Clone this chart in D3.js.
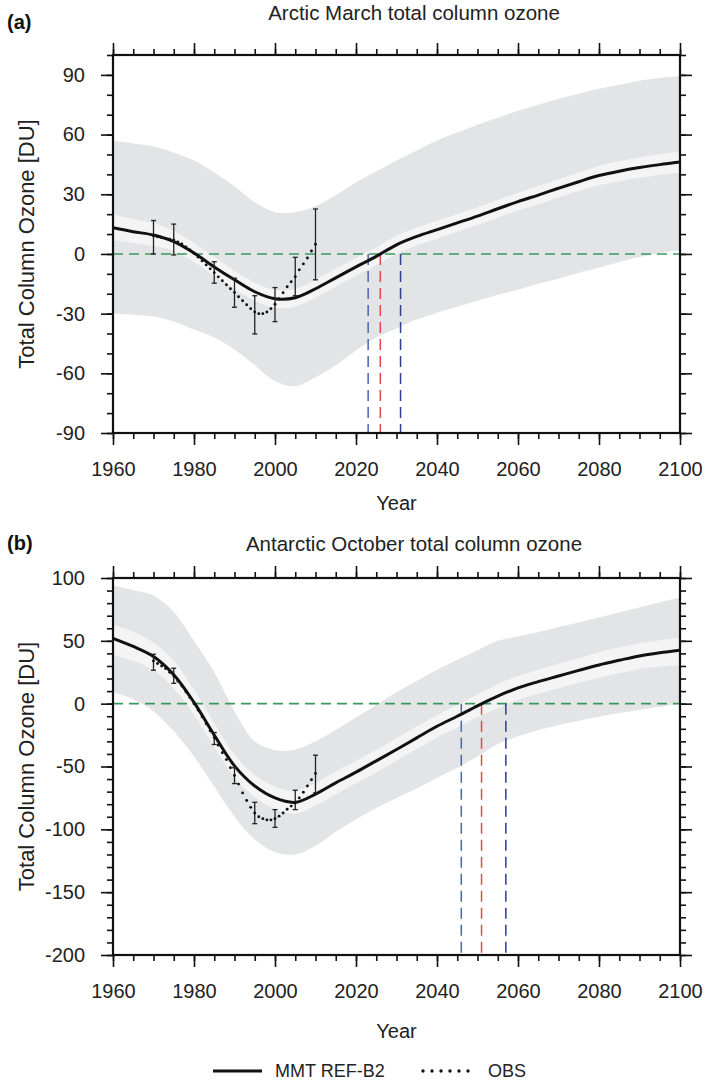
<!DOCTYPE html>
<html>
<head>
<meta charset="utf-8">
<script src="https://cdn.jsdelivr.net/npm/d3@7"></script>
<style>
  body { margin: 0; background: #fff; }
  svg { font-family: "Liberation Sans", Arial, sans-serif; }
</style>
</head>
<body>
<script>
// model years (5-yearly)
var years = d3.range(1960, 2101, 5);

// panel (a) Arctic March
var aMean    = [13.2, 11.2, 9.5, 6.2, 0.5, -6.5, -13, -19, -22.5, -22, -17.5, -12, -6.5, -1.2, 4.6, 8.8, 12.2, 15.6, 19, 22.7, 26.3, 29.6, 33, 36.3, 39.4, 41.6, 43.4, 44.9, 46.2];
var aInnerHi = [20, 17.5, 15.5, 11.5, 5.5, -1.5, -8.5, -14.5, -18, -17.5, -13, -7.5, -2, 3.3, 9.1, 13.3, 16.7, 20.1, 23.5, 27.2, 30.8, 34.2, 37.6, 41, 44.3, 46.6, 48.5, 50.1, 51.4];
var aInnerLo = [7, 5.5, 4, 1.5, -4, -11, -17.5, -23.5, -27, -26.5, -22, -16.5, -11, -5.7, 0.1, 4.3, 7.7, 11.1, 14.5, 18.2, 21.8, 25, 28.4, 31.6, 34.5, 36.6, 38.3, 39.7, 40.8];
var aOuterHi = [57, 55.5, 54, 51, 47, 41, 34, 26, 21, 21, 24, 29.5, 36, 41.5, 47, 52, 57, 61, 65, 68.5, 72, 75, 78, 80.5, 83, 85, 87, 88.5, 89.5];
var aOuterLo = [-30, -30.5, -31.5, -34, -38, -42, -48, -56, -64, -66.5, -62, -56, -48.5, -42, -37.5, -33, -29.5, -26.5, -23.5, -20.5, -18, -15, -12.5, -9.5, -7, -4, -1.5, 0.5, 2];

// observations (annual)
var obsYears = d3.range(1970, 2011);
var aObs = [9, 8.6, 8.2, 7.8, 7.4, 7, 6, 5, 3.5, 2, 0.3, -1.5, -3.5, -5.5, -7.5, -9.4, -11.5, -13.5, -15.5, -17.5, -19.4, -21.5, -23.5, -25.5, -27.5, -29.2, -30, -30, -29.2, -27.5, -25.3, -22.5, -19.5, -16.5, -14, -11.4, -8, -5, -2, 1.5, 4.9];
var errYears = [1970, 1975, 1985, 1990, 1995, 2000, 2005, 2010];
var aErrLo = [0, -0.5, -14.7, -26.8, -40.2, -34, -21, -13];
var aErrHi = [16.8, 15, -3.9, -12.2, -21, -16.9, -1.7, 22.6];
var aReturn = [2023, 2026, 2031];

// panel (b) Antarctic October
var bMean    = [52, 45.5, 37.5, 23, 1, -25, -49.5, -65.5, -75, -78.5, -72, -63, -54.5, -45.5, -36.5, -27.2, -18, -10, -1.7, 6, 12.5, 17.5, 22, 26.5, 30.8, 34.5, 38, 40.5, 42.5];
var bInnerHi = [63, 57, 48.5, 34, 11, -15.5, -40.5, -56.5, -66, -69.5, -63, -54, -45.5, -36.5, -27.5, -18.2, -9, -1, 7.3, 15.5, 22, 27, 31.7, 36.4, 41, 44.8, 48, 50.5, 52.5];
var bInnerLo = [39, 34, 26.5, 12, -9, -34.5, -58.5, -74.5, -84, -87.5, -81, -72, -63.5, -54.5, -45.5, -36.2, -27, -19, -10.7, -3.5, 3, 7.8, 12, 16.6, 20.6, 24.2, 27.5, 29.5, 31];
var bOuterHi = [94, 90.5, 86, 73, 50, 25, -6, -30, -37, -36.5, -30, -21, -11, -1, 9, 18, 27, 35, 42.5, 50, 53.5, 57, 61, 64.5, 68.5, 72.5, 76.5, 80.5, 84.5];
var bOuterLo = [9, 3.5, -6, -22, -42, -66, -90, -108, -118, -120, -113, -102, -92, -83, -75, -67.5, -59, -51, -42, -32, -26, -21, -17, -13.5, -10.5, -7.5, -5, -2.5, 0];
var bObs = [34, 32, 30, 28, 25, 22, 18, 14, 9.5, 5, 0, -5, -10.5, -16, -21.5, -27, -33, -39, -44.5, -51, -57.2, -64, -71, -77, -82.5, -87, -90, -91.5, -92.5, -92.5, -91.5, -89.5, -87, -84, -81.5, -79, -75, -70.5, -65.5, -60.5, -55.6];
var bErrLo = [26.6, 16.2, -32.5, -63.6, -95.5, -98.4, -84.3, -71];
var bErrHi = [39.3, 28.2, -23, -51, -78.5, -84.3, -68.9, -41];
var bReturn = [2046, 2051, 2057];

var returnColors = ["#4a64b0", "#e5464f", "#2b3f95"];

var svg = d3.select("body").append("svg")
    .attr("width", 705)
    .attr("height", 1082);

var left = 113, right = 680;
var x = d3.scaleLinear().domain([1960, 2100]).range([left, right]);
var plain = function(d) { return String(d); };   // hyphen minus, like the original
var smooth = d3.curveCatmullRom.alpha(0.5);

function drawPanel(p) {
    var y = d3.scaleLinear().domain(p.domain).range([p.bottom, p.top]);
    var g = svg.append("g");

    var clipId = "clip" + p.label;
    svg.append("clipPath").attr("id", clipId).append("rect")
        .attr("x", left).attr("y", p.top)
        .attr("width", right - left).attr("height", p.bottom - p.top);

    var plot = g.append("g").attr("clip-path", "url(#" + clipId + ")");

    var band = function(lo, hi) {
        return d3.area()
            .x(function(d, i) { return x(years[i]); })
            .y0(function(d, i) { return y(lo[i]); })
            .y1(function(d, i) { return y(hi[i]); })
            .curve(smooth)(years);
    };

    plot.append("path").attr("d", band(p.outerLo, p.outerHi)).attr("fill", "#e3e4e6");
    plot.append("path").attr("d", band(p.innerLo, p.innerHi)).attr("fill", "#f4f4f4");

    // zero line
    plot.append("line")
        .attr("x1", left).attr("x2", right)
        .attr("y1", y(0)).attr("y2", y(0))
        .attr("stroke", "#3a9a5c").attr("stroke-width", 1.6)
        .attr("stroke-dasharray", "10,6");

    // return dates
    plot.selectAll(".ret").data(p.ret).enter().append("line")
        .attr("x1", function(d) { return x(d); })
        .attr("x2", function(d) { return x(d); })
        .attr("y1", y(0)).attr("y2", p.bottom)
        .attr("stroke", function(d, i) { return returnColors[i]; })
        .attr("stroke-width", 1.5)
        .attr("stroke-dasharray", "11,6");

    // model mean
    plot.append("path")
        .attr("d", d3.line()
            .x(function(d, i) { return x(years[i]); })
            .y(function(d) { return y(d); })
            .curve(smooth)(p.mean))
        .attr("fill", "none").attr("stroke", "#111").attr("stroke-width", 3);

    // error bars
    var eb = plot.selectAll(".eb").data(errYears).enter().append("g");
    eb.append("line")
        .attr("x1", function(d) { return x(d); }).attr("x2", function(d) { return x(d); })
        .attr("y1", function(d, i) { return y(p.errLo[i]); })
        .attr("y2", function(d, i) { return y(p.errHi[i]); })
        .attr("stroke", "#222").attr("stroke-width", 1.3);
    [p.errLo, p.errHi].forEach(function(arr) {
        eb.append("line")
            .attr("x1", function(d) { return x(d) - 2.5; }).attr("x2", function(d) { return x(d) + 2.5; })
            .attr("y1", function(d, i) { return y(arr[i]); })
            .attr("y2", function(d, i) { return y(arr[i]); })
            .attr("stroke", "#222").attr("stroke-width", 1.3);
    });

    // obs dots
    plot.selectAll(".obs").data(p.obs).enter().append("circle")
        .attr("cx", function(d, i) { return x(obsYears[i]); })
        .attr("cy", function(d) { return y(d); })
        .attr("r", 1.45)
        .attr("fill", "#111");

    // axes
    var H = p.bottom - p.top;
    var xMinor = d3.range(1960, 2101, 5);
    var xMajor = d3.range(1960, 2101, 20);
    var yMinor = d3.range(p.domain[0], p.domain[1] + 0.1, 10);
    var yMajor = d3.range(p.domain[0], p.domain[1] + 0.1, p.step);

    function axis(gen, transform) {
        var a = g.append("g").attr("transform", transform).call(gen);
        a.select(".domain").remove();
        a.selectAll("line").attr("stroke", "#111").attr("stroke-width", 1.6);
        a.selectAll("text").attr("fill", "#222").style("font-size", "20px").style("font-family", "Liberation Sans, Arial, sans-serif");
        return a;
    }

    axis(d3.axisBottom(x).tickValues(xMinor).tickSize(6).tickFormat(""), "translate(0," + p.bottom + ")");
    axis(d3.axisBottom(x).tickValues(xMajor).tickSize(12).tickPadding(17).tickFormat(plain), "translate(0," + p.bottom + ")");
    axis(d3.axisTop(x).tickValues(xMinor).tickSize(6).tickFormat(""), "translate(0," + p.top + ")");
    axis(d3.axisTop(x).tickValues(xMajor).tickSize(12).tickFormat(""), "translate(0," + p.top + ")");
    axis(d3.axisLeft(y).tickValues(yMinor).tickSize(6).tickFormat(""), "translate(" + left + ",0)");
    axis(d3.axisLeft(y).tickValues(yMajor).tickSize(12).tickPadding(16).tickFormat(plain), "translate(" + left + ",0)");
    axis(d3.axisRight(y).tickValues(yMinor).tickSize(6).tickFormat(""), "translate(" + right + ",0)");
    axis(d3.axisRight(y).tickValues(yMajor).tickSize(12).tickFormat(""), "translate(" + right + ",0)");

    g.append("rect")
        .attr("x", left).attr("y", p.top)
        .attr("width", right - left).attr("height", H)
        .attr("fill", "none").attr("stroke", "#111").attr("stroke-width", 2.2);

    // labels
    g.append("text").attr("x", 7).attr("y", p.tagY)
        .style("font-size", "20px").style("font-weight", "bold").attr("fill", "#111")
        .text("(" + p.label + ")");
    g.append("text").attr("x", 414).attr("y", p.titleY)
        .attr("text-anchor", "middle").style("font-size", "20.5px").attr("fill", "#222")
        .text(p.title);
    g.append("text").attr("x", (left + right) / 2).attr("y", p.bottom + p.yearOff)
        .attr("text-anchor", "middle").style("font-size", "20px").attr("fill", "#222")
        .text("Year");
    g.append("text")
        .attr("transform", "translate(34," + (p.top + p.bottom) / 2 + ") rotate(-90)")
        .attr("text-anchor", "middle").style("font-size", "22px").attr("fill", "#222")
        .text("Total Column Ozone [DU]");
}

drawPanel({
    label: "a", title: "Arctic March total column ozone",
    domain: [-90, 100], step: 30, top: 55, bottom: 433,
    tagY: 29, titleY: 20, yearOff: 77,
    mean: aMean, innerHi: aInnerHi, innerLo: aInnerLo, outerHi: aOuterHi, outerLo: aOuterLo,
    obs: aObs, errLo: aErrLo, errHi: aErrHi, ret: aReturn
});

drawPanel({
    label: "b", title: "Antarctic October total column ozone",
    domain: [-200, 100], step: 50, top: 578, bottom: 955,
    tagY: 550, titleY: 551, yearOff: 83,
    mean: bMean, innerHi: bInnerHi, innerLo: bInnerLo, outerHi: bOuterHi, outerLo: bOuterLo,
    obs: bObs, errLo: bErrLo, errHi: bErrHi, ret: bReturn
});

// legend
var leg = svg.append("g");
leg.append("line").attr("x1", 213).attr("x2", 262).attr("y1", 1071).attr("y2", 1071)
    .attr("stroke", "#111").attr("stroke-width", 3);
leg.append("text").attr("x", 275).attr("y", 1077).style("font-size", "18px").attr("fill", "#222").text("MMT REF-B2");
leg.selectAll(".ld").data(d3.range(6)).enter().append("circle")
    .attr("cx", function(d) { return 423 + d * 9; }).attr("cy", 1071).attr("r", 1.7).attr("fill", "#111");
leg.append("text").attr("x", 488).attr("y", 1077).style("font-size", "18px").attr("fill", "#222").text("OBS");
</script>
</body>
</html>
